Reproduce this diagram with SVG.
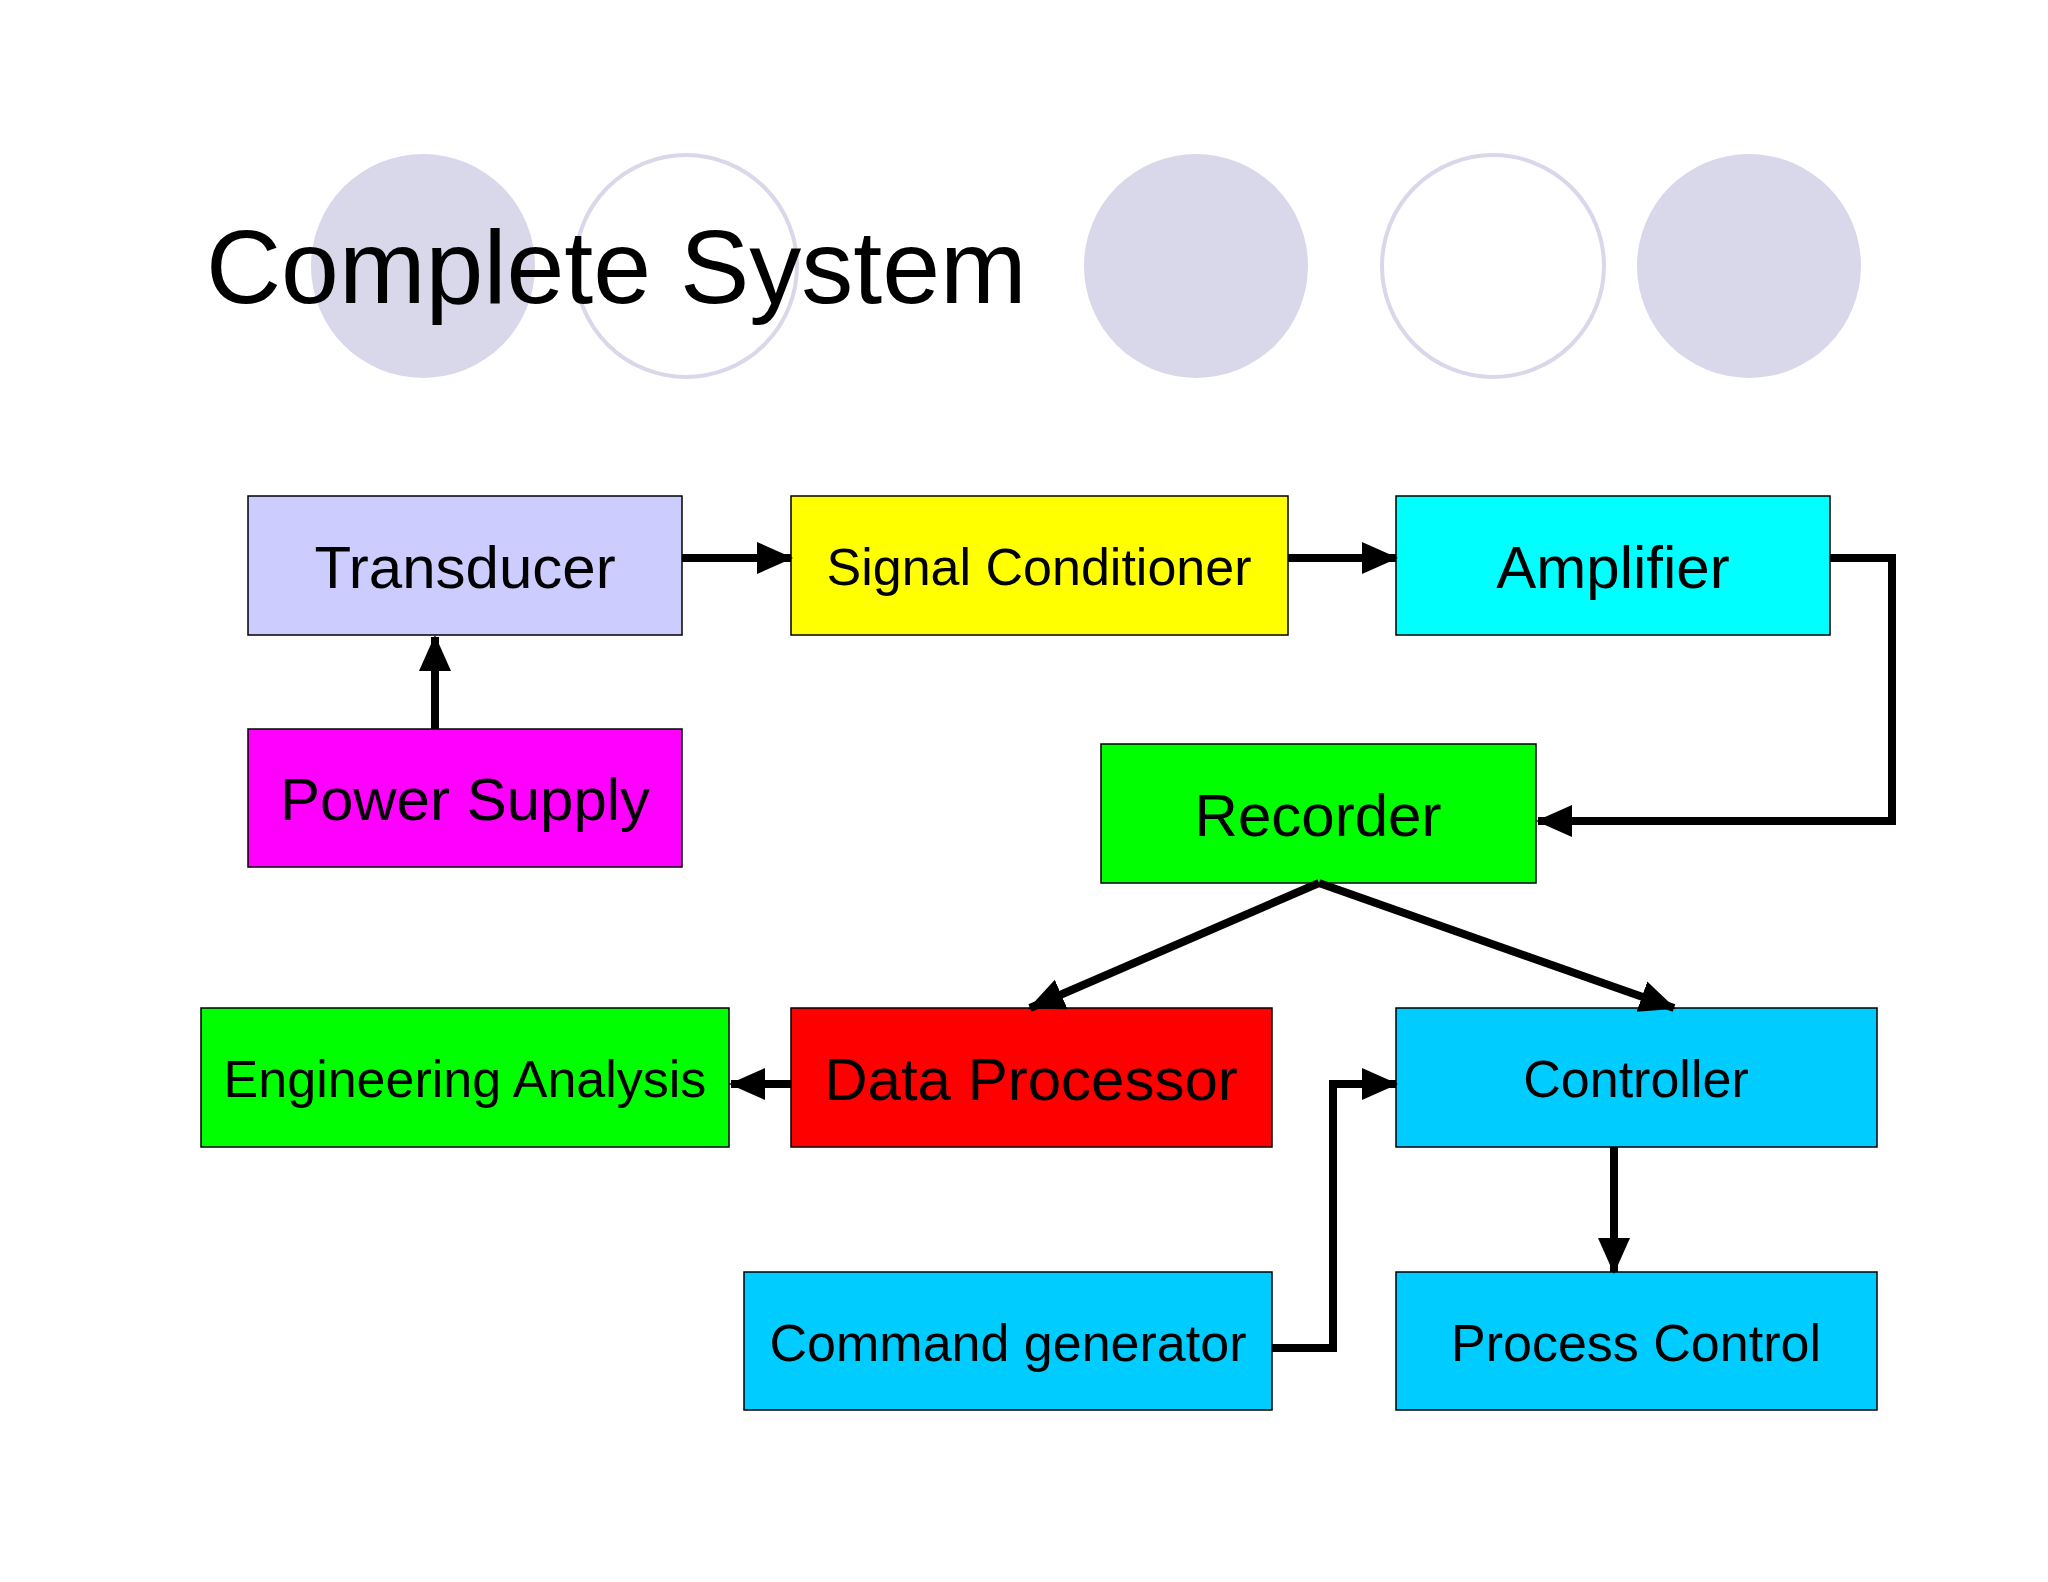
<svg xmlns="http://www.w3.org/2000/svg" width="2048" height="1582" viewBox="0 0 2048 1582">
<style>
.box{stroke:#000;stroke-width:1.5}
.t{font-family:"Liberation Sans",Arial,sans-serif;text-anchor:middle;fill:#000}
.c{stroke:#000;stroke-width:8;fill:none}
</style>
<defs>
<marker id="ah" markerUnits="userSpaceOnUse" markerWidth="36" markerHeight="36" viewBox="0 0 36 36" refX="34" refY="18" orient="auto"><path d="M0,2 L36,18 L0,34 Z" fill="#000"/></marker>
</defs>
<rect width="2048" height="1582" fill="#fff"/>
<g id="deco">
<circle cx="423" cy="266" r="112" fill="#D9D7EA"/>
<circle cx="686" cy="266" r="111" fill="none" stroke="#D9D7EA" stroke-width="4"/>
<circle cx="1196" cy="266" r="112" fill="#D9D7EA"/>
<circle cx="1493" cy="266" r="111" fill="none" stroke="#D9D7EA" stroke-width="4"/>
<circle cx="1749" cy="266" r="112" fill="#D9D7EA"/>
</g>
<text class="t" x="206" y="303" font-size="104" style="text-anchor:start">Complete System</text>
<g id="transducer"><rect class="box" x="248" y="496" width="434" height="139" fill="#CCCCFF"/><text class="t" x="465" y="588" font-size="60">Transducer</text></g>
<g id="signal"><rect class="box" x="791" y="496" width="497" height="139" fill="#FFFF00"/><text class="t" x="1039" y="585" font-size="52">Signal Conditioner</text></g>
<g id="amplifier"><rect class="box" x="1396" y="496" width="434" height="139" fill="#00FFFF"/><text class="t" x="1613" y="588" font-size="60">Amplifier</text></g>
<g id="power"><rect class="box" x="248" y="729" width="434" height="138" fill="#FF00FF"/><text class="t" x="465" y="820" font-size="60">Power Supply</text></g>
<g id="recorder"><rect class="box" x="1101" y="744" width="435" height="139" fill="#00FF00"/><text class="t" x="1318" y="836" font-size="60">Recorder</text></g>
<g id="engineering"><rect class="box" x="201" y="1008" width="528" height="139" fill="#00FF00"/><text class="t" x="465" y="1097" font-size="52">Engineering Analysis</text></g>
<g id="dataproc"><rect class="box" x="791" y="1008" width="481" height="139" fill="#FF0000"/><text class="t" x="1031" y="1100" font-size="60">Data Processor</text></g>
<g id="controller"><rect class="box" x="1396" y="1008" width="481" height="139" fill="#00CCFF"/><text class="t" x="1636" y="1097" font-size="52">Controller</text></g>
<g id="command"><rect class="box" x="744" y="1272" width="528" height="138" fill="#00CCFF"/><text class="t" x="1008" y="1361" font-size="52">Command generator</text></g>
<g id="process"><rect class="box" x="1396" y="1272" width="481" height="138" fill="#00CCFF"/><text class="t" x="1636" y="1361" font-size="52">Process Control</text></g>
<g id="connectors">
<line class="c" x1="682" y1="558" x2="791" y2="558" marker-end="url(#ah)"/>
<line class="c" x1="1288" y1="558" x2="1396" y2="558" marker-end="url(#ah)"/>
<polyline class="c" points="1830,558 1892,558 1892,821 1538,821" marker-end="url(#ah)"/>
<line class="c" x1="435" y1="729" x2="435" y2="637" marker-end="url(#ah)"/>
<line class="c" x1="1319" y1="883" x2="1030" y2="1008" marker-end="url(#ah)"/>
<line class="c" x1="1319" y1="883" x2="1674" y2="1008" marker-end="url(#ah)"/>
<line class="c" x1="791" y1="1084" x2="731" y2="1084" marker-end="url(#ah)"/>
<polyline class="c" points="1272,1348 1333,1348 1333,1084 1396,1084" marker-end="url(#ah)"/>
<line class="c" x1="1614" y1="1147" x2="1614" y2="1272" marker-end="url(#ah)"/>
</g>
</svg>
